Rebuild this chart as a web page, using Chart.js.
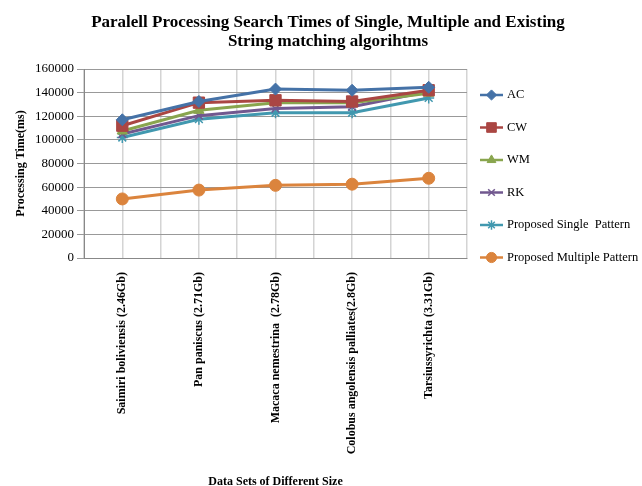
<!DOCTYPE html>
<html>
<head>
<meta charset="utf-8">
<script src="https://cdn.jsdelivr.net/npm/chart.js@4/dist/chart.umd.min.js"></script>
<style>
    html, body { margin: 0; padding: 0; background: #fff; }
    #wrap { width: 642px; height: 486px; }
</style>
</head>
<body>
<div id="wrap"><canvas id="chart"></canvas></div>
<script>
// Data
const categories = [
    'Saimiri boliviensis (2.46Gb)',
    'Pan paniscus (2.71Gb)',
    'Macaca nemestrina  (2.78Gb)',
    'Colobus angolensis palliates(2.8Gb)',
    'Tarsiussyrichta (3.31Gb)'
];
const acTimes = [117000, 132500, 143000, 142000, 144500];
const cwTimes = [112000, 131500, 133500, 132500, 142000];
const wmTimes = [107500, 125000, 131500, 131500, 139500];
const rkTimes = [105000, 120500, 126500, 128000, 141000];
const singleTimes = [102000, 117500, 123000, 123000, 135500];
const multipleTimes = [50000, 57500, 61500, 62500, 67500];
const yTicks = [0, 20000, 40000, 60000, 80000, 100000, 120000, 140000, 160000];
const titleLines = ['Paralell Processing Search Times of Single, Multiple and Existing', 'String matching algorihtms'];

const serif = "'Liberation Serif', 'Times New Roman', serif";

function series(label, data, color, pointStyle, radius) {
    return {
        label: label,
        data: data,
        borderColor: color,
        backgroundColor: color,
        pointStyle: pointStyle,
        pointRadius: radius,
        pointBorderWidth: pointStyle === 'crossRot' || pointStyle === 'star' ? 1.5 : 1,
        borderWidth: 3,
        tension: 0,
        fill: false,
        xAxisID: 'x'
    };
}

// Chart title, centred a little right of the canvas middle like the original
const topTitle = {
    id: 'topTitle',
    afterDraw(chart) {
        const ctx = chart.ctx;
        ctx.save();
        ctx.fillStyle = '#000';
        ctx.font = 'bold 17px ' + serif;
        ctx.textAlign = 'center';
        ctx.textBaseline = 'middle';
        titleLines.forEach((line, i) => {
            ctx.fillText(line, 328, 23 + i * 18.5);
        });
        ctx.restore();
    }
};

// Legend with line + marker, drawn on the right of the plot
const sideLegend = {
    id: 'sideLegend',
    afterDraw(chart) {
        const ctx = chart.ctx;
        const area = chart.chartArea;
        const x0 = area.right + 13;
        ctx.save();
        chart.data.datasets.forEach((ds, i) => {
            const y = area.top + 26 + i * 32.5;
            ctx.strokeStyle = ds.borderColor;
            ctx.lineWidth = 2.5;
            ctx.beginPath();
            ctx.moveTo(x0, y);
            ctx.lineTo(x0 + 23, y);
            ctx.stroke();
            ctx.fillStyle = ds.backgroundColor;
            ctx.lineWidth = ds.pointBorderWidth;
            Chart.helpers.drawPoint(ctx, {
                pointStyle: ds.pointStyle,
                radius: ds.pointRadius * 0.85,
                borderWidth: ds.pointBorderWidth,
                rotation: 0
            }, x0 + 11.5, y);
            ctx.fillStyle = '#000';
            ctx.font = '12.5px ' + serif;
            ctx.textBaseline = 'middle';
            ctx.textAlign = 'left';
            ctx.fillText(ds.label, x0 + 27, y);
        });
        ctx.restore();
    }
};

const ctx = document.getElementById('chart').getContext('2d');
new Chart(ctx, {
    type: 'line',
    data: {
        labels: categories,
        datasets: [
            series('AC', acTimes, '#4572A7', 'rectRot', 6),
            series('CW', cwTimes, '#AA4643', 'rect', 8),
            series('WM', wmTimes, '#89A54E', 'triangle', 6),
            series('RK', rkTimes, '#71588F', 'crossRot', 5.5),
            series('Proposed Single  Pattern', singleTimes, '#4198AF', 'star', 5.5),
            series('Proposed Multiple Pattern', multipleTimes, '#DB843D', 'circle', 6)
        ]
    },
    options: {
        responsive: true,
        maintainAspectRatio: false,
        animation: false,
        layout: {
            padding: { left: 0, right: 175, top: 69, bottom: 0 }
        },
        scales: {
            x: {
                offset: true,
                afterFit(axis) { axis.height = 228; },
                grid: { color: '#d4d4d4', lineWidth: 1.5, offset: true, drawTicks: false },
                border: { color: '#888', width: 1 },
                ticks: {
                    minRotation: 90,
                    maxRotation: 90,
                    autoSkip: false,
                    padding: 14,
                    color: '#000',
                    font: { family: serif, size: 12, weight: 'bold' }
                },
                title: {
                    display: true,
                    text: 'Data Sets of Different Size',
                    color: '#000',
                    padding: { top: 0, bottom: -3 },
                    font: { family: serif, size: 12, weight: 'bold' }
                }
            },
            x2: {
                type: 'category',
                labels: categories,
                offset: true,
                position: 'bottom',
                afterFit(axis) { axis.height = 0; },
                grid: { color: '#d4d4d4', lineWidth: 1.5, offset: false, drawTicks: false },
                border: { display: false },
                ticks: { display: false }
            },
            y: {
                min: 0,
                max: 160000,
                afterFit(axis) { axis.width = 84; },
                afterBuildTicks(axis) {
                    axis.ticks = yTicks.map(v => ({ value: v }));
                },
                grid: { color: '#999', lineWidth: 1, tickLength: 7 },
                border: { color: '#888', width: 1 },
                ticks: {
                    color: '#000',
                    padding: 3,
                    callback: v => String(v),
                    font: { family: serif, size: 13 }
                },
                title: {
                    display: true,
                    text: 'Processing Time(ms)',
                    color: '#000',
                    padding: { top: 14, bottom: 0 },
                    font: { family: serif, size: 12, weight: 'bold' }
                }
            }
        },
        plugins: {
            legend: { display: false },
            tooltip: { enabled: false },
            title: { display: false }
        }
    },
    plugins: [topTitle, sideLegend]
});
</script>
</body>
</html>
